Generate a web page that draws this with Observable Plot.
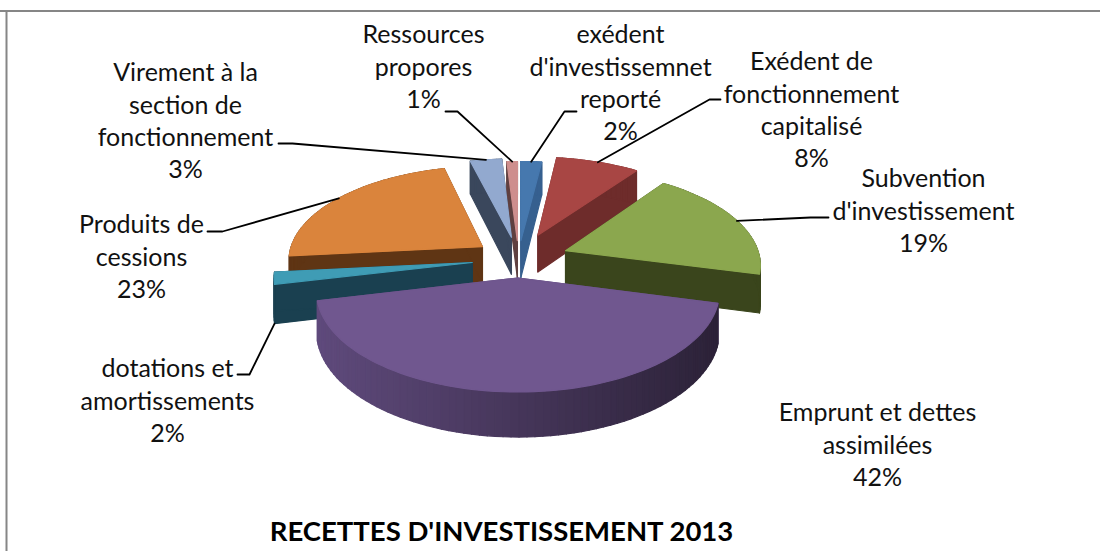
<!DOCTYPE html>
<html><head><meta charset="utf-8">
<style>html,body{margin:0;padding:0;background:#fff}svg{display:block}</style>
<script src="https://cdn.jsdelivr.net/npm/d3@7"></script>
<script src="https://cdn.jsdelivr.net/npm/@observablehq/plot@0.6"></script>
</head><body><div id="chart"></div>
<script>
// data, clockwise from 12 o'clock
const categories = ["exédent\nd'investissemnet\nreporté","Exédent de\nfonctionnement\ncapitalisé","Subvention\nd'investissement","Emprunt et dettes\nassimilées","dotations et\namortissements","Produits de\ncessions","Virement à la\nsection de\nfonctionnement","Ressources\npropores"];
const shares = [0.02,0.08,0.19,0.424,0.02,0.226,0.03,0.01];
const title = "RECETTES D'INVESTISSEMENT 2013";

// styles
const topColors  = ["#4678AE","#A84644","#8BA74E","#70578F","#3F9CB5","#DA843C","#92A9CF","#CE8E8D"];
const sideColors = ["#36608F","#6E2C2B","#3A451C","#5F4A7C","#1A4050","#5F3514","#3A475C","#5F4040"];
const wallEnd    = ["#36608F","#6E2C2B","#3A451C","#2C2238","#1A4050","#5F3514","#3A475C","#5F4040"];
// layout: label centres, leader elbows and stub ends, slice explosion
const labelX = [620,811,923,877,167,141,185,423];
const labelY = [81,108,209,443,399,255,119,65];
const elbows = [[564,111],[709,99],[810,217],null,[249,374],[222,231],[292,143],[457,111]];
const stubs  = [[576,111],[720,99],[828,217],null,[237,374],[207,231],[278,143],[445,111]];
const explode = [0.2,0.28,0.26,0.2,0.24,0.23,0.24,0.2];
const drawOrder = [7,6,0,1,5,2,4,3];
const view = {x0:518,y0:258.3,R:194.5,H:93.7,D:38,p:0.13};

const rad = Math.PI/180;
const cum = d3.cumsum(shares);
const angles = shares.map((s,i)=>[(cum[i]-s)*360,cum[i]*360]);
function project(X,Z,h){const s=1/(1+view.p*Z);return {x:view.x0+view.R*X*s,y:view.y0-view.H*Z*s+view.D*h*s};}
function pt(i,a,r,h){const m=(angles[i][0]+angles[i][1])/2*rad,e=explode[i];
  return project(e*Math.sin(m)+r*Math.sin(a*rad),e*Math.cos(m)+r*Math.cos(a*rad),h);}

const polys=[]; let n=0;
function poly(pts,c){const id=n++;pts.forEach(p=>polys.push({id,x:p.x,y:p.y,c}));}
for(const i of drawOrder){
  const [a0,a1]=angles[i];
  for(const a of [a0,a1]) poly([pt(i,a,0,0),pt(i,a,1,0),pt(i,a,1,1),pt(i,a,0,1)],sideColors[i]);
  const steps=Math.max(4,Math.ceil((a1-a0)/2));
  const arc=d3.range(steps+1).map(k=>a0+(a1-a0)*k/steps);
  const xs=arc.map(a=>pt(i,a,1,0).x);
  const [xl,xr]=d3.extent(xs);
  const col=d3.interpolateRgb(sideColors[i],wallEnd[i]);
  for(let k=steps-1;k>=0;k--){
    const t=((xs[k]+xs[k+1])/2-xl)/(xr-xl);
    poly([pt(i,arc[k],1,0),pt(i,arc[k+1],1,0),pt(i,arc[k+1],1,1),pt(i,arc[k],1,1)],col(t));
  }
  poly([pt(i,a0,0,0),...arc.map(a=>pt(i,a,1,0))],topColors[i]);
}

const labels=categories.map((c,i)=>({text:c+"\n"+d3.format(".0%")(shares[i]),x:labelX[i],y:labelY[i]}));
const leaders=[];
categories.forEach((c,i)=>{ if(!elbows[i])return;
  const m=(angles[i][0]+angles[i][1])/2;
  const start=i===4?pt(i,angles[i][0],1,1):pt(i,m,1,0);
  [start,{x:elbows[i][0],y:elbows[i][1]},{x:stubs[i][0],y:stubs[i][1]}].forEach(p=>leaders.push({i,x:p.x,y:p.y}));
});

const plot=Plot.plot({
  width:1100,height:551,margin:0,
  x:{domain:[0,1100],range:[0,1100],axis:null},
  y:{domain:[0,551],range:[0,551],axis:null},
  color:{type:"identity"},
  style:{fontFamily:"Lato, 'Open Sans', sans-serif",background:"#fff",color:"#000"},
  marks:[
    Plot.ruleY([10.5],{stroke:"#868686",strokeWidth:2}),
    Plot.ruleX([6],{y1:10,y2:551,stroke:"#868686",strokeWidth:2}),
    Plot.line(polys,{x:"x",y:"y",z:"id",fill:"c",stroke:"c",strokeWidth:1.2,curve:"linear-closed"}),
    Plot.line(leaders,{x:"x",y:"y",z:"i",stroke:"#000",strokeWidth:1.8,curve:"linear"}),
    Plot.text(labels,{x:"x",y:"y",text:"text",fontSize:25,lineHeight:1.296,fill:"#111",textAnchor:"middle",lineAnchor:"middle"}),
    Plot.text([title],{x:()=>501,y:()=>532,fontSize:27.5,fontWeight:"bold",fill:"#000",textAnchor:"middle"})
  ]
});
document.getElementById("chart").append(plot);
</script></body></html>
